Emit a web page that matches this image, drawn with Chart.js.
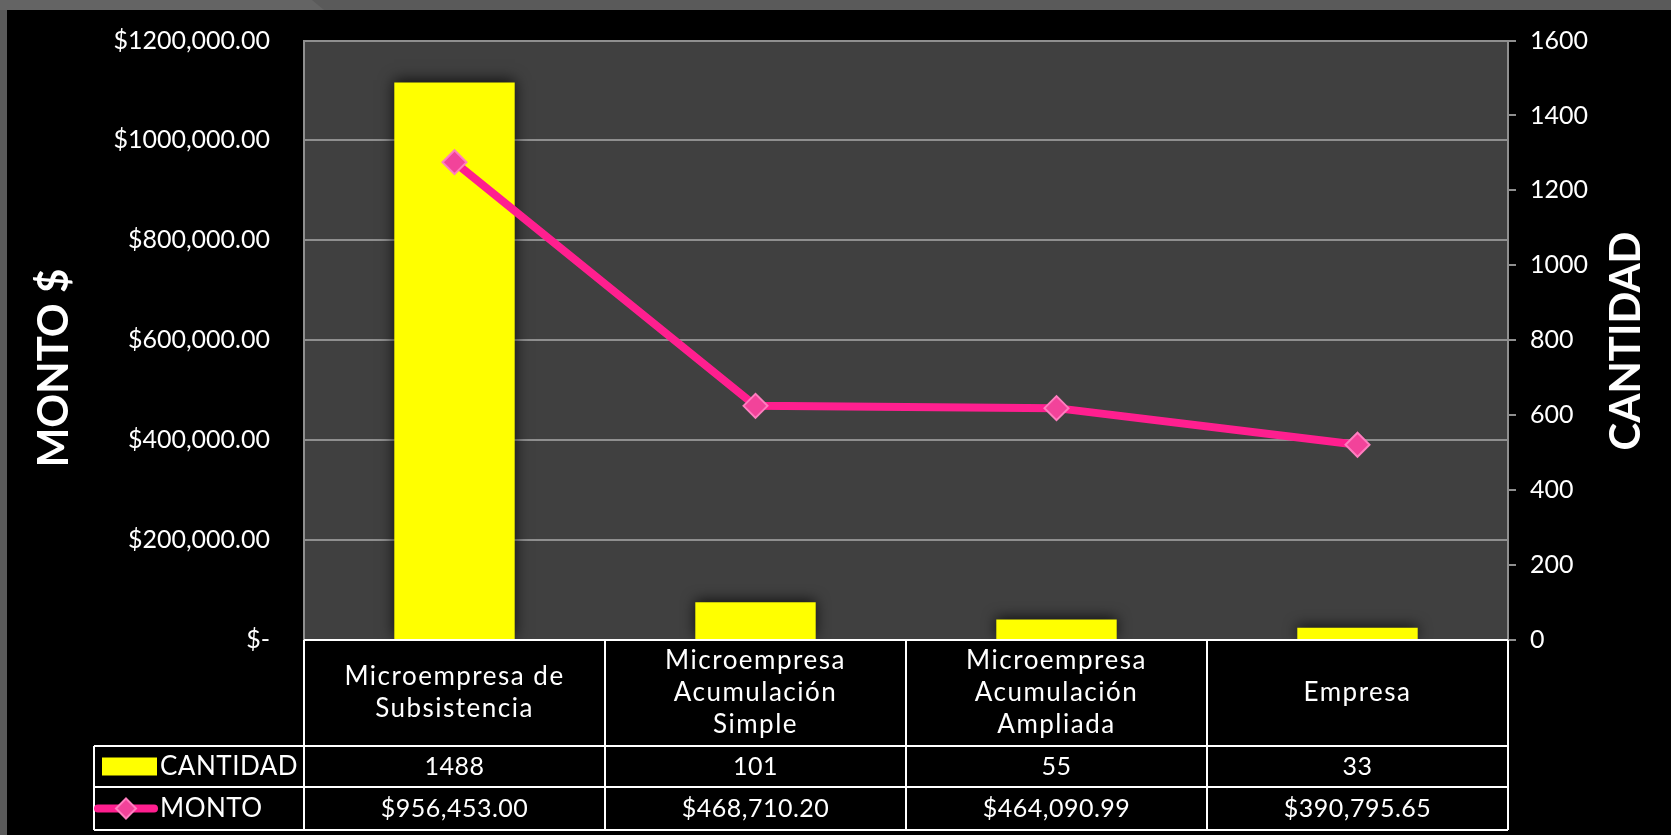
<!DOCTYPE html>
<html>
<head>
<meta charset="utf-8">
<script src="https://cdn.jsdelivr.net/npm/chart.js@4/dist/chart.umd.min.js"></script>
<style>
  html, body { margin: 0; padding: 0; background: #000; overflow: hidden; }
</style>
</head>
<body>
<canvas id="js-chart-montos" width="1671" height="835"></canvas>
<script>
// Chart data
const categories = [
  ['Microempresa de', 'Subsistencia'],
  ['Microempresa', 'Acumulación', 'Simple'],
  ['Microempresa', 'Acumulación', 'Ampliada'],
  ['Empresa']
];
const cantidad = [1488, 101, 55, 33];
const monto = [956453.00, 468710.20, 464090.99, 390795.65];
const montoTicks = ['$-', '$200,000.00', '$400,000.00', '$600,000.00', '$800,000.00', '$1000,000.00', '$1200,000.00'];
const cantidadTicks = ['0', '200', '400', '600', '800', '1000', '1200', '1400', '1600'];

const FONT = 'Lato, "Open Sans", sans-serif';
const PINK = '#ff1f8f';
const YELLOW = '#ffff00';

Chart.defaults.font.family = FONT;
Chart.defaults.font.size = 25;
Chart.defaults.color = '#ffffff';
Chart.defaults.plugins.legend.display = false;
Chart.defaults.plugins.tooltip.enabled = false;

function fmtMonto(v) {
  return '$' + v.toLocaleString('en-US', {minimumFractionDigits: 2, maximumFractionDigits: 2});
}

// Background, plot area, shadows, data table and axis titles
const decoPlugin = {
  id: 'deco',
  beforeDraw(chart) {
    const c = chart.ctx, a = chart.chartArea;
    c.save();
    c.fillStyle = '#5a5a5a';
    c.fillRect(0, 0, chart.width, chart.height);
    c.fillStyle = '#646464';
    c.beginPath();
    c.moveTo(0, 0); c.lineTo(312, 0); c.lineTo(324, 10); c.lineTo(0, 10);
    c.fill();
    c.fillStyle = '#000';
    c.fillRect(7, 10, chart.width - 7, chart.height - 10);
    c.fillStyle = '#404040';
    c.fillRect(a.left, a.top, a.right - a.left, a.bottom - a.top);
    c.restore();
  },
  beforeDatasetDraw(chart, args) {
    const c = chart.ctx;
    c.save();
    if (args.meta.type === 'bar') {
      c.shadowColor = 'rgba(0,0,0,0.75)';
      c.shadowBlur = 14;
      c.shadowOffsetY = -2;
    }
  },
  afterDatasetDraw(chart) {
    chart.ctx.restore();
  },
  afterDraw(chart) {
    const c = chart.ctx, a = chart.chartArea, xs = chart.scales.x;
    const n = categories.length;
    const colW = (a.right - a.left) / n;
    const legendLeft = 94;
    const hdrBottom = a.bottom + 106;
    const r1Bottom = hdrBottom + 41;
    const r2Bottom = r1Bottom + 43;
    const r1Mid = (hdrBottom + r1Bottom) / 2;
    const r2Mid = (r1Bottom + r2Bottom) / 2;

    c.save();
    c.strokeStyle = '#ffffff';
    c.lineWidth = 2;
    c.beginPath();
    c.moveTo(a.left, a.bottom); c.lineTo(a.right, a.bottom);
    [hdrBottom, r1Bottom, r2Bottom].forEach(y => { c.moveTo(legendLeft, y); c.lineTo(a.right, y); });
    for (let i = 0; i <= n; i++) {
      const x = a.left + i * colW;
      c.moveTo(x, a.bottom); c.lineTo(x, r2Bottom);
    }
    c.moveTo(legendLeft, hdrBottom); c.lineTo(legendLeft, r2Bottom);
    c.stroke();

    // table text
    c.fillStyle = '#ffffff';
    c.font = '26px ' + FONT;
    c.letterSpacing = '1.5px';
    c.textAlign = 'center';
    c.textBaseline = 'middle';
    const hdrMid = (a.bottom + hdrBottom) / 2;
    const lh = 32;
    categories.forEach((lines, i) => {
      const x = xs.getPixelForValue(i);
      const y0 = hdrMid - (lines.length - 1) * lh / 2;
      lines.forEach((t, j) => c.fillText(t, x, y0 + j * lh));
    });
    c.font = '25px ' + FONT;
    c.letterSpacing = '0.5px';
    categories.forEach((lines, i) => {
      const x = xs.getPixelForValue(i);
      c.fillText(String(cantidad[i]), x, r1Mid);
      c.fillText(fmtMonto(monto[i]), x, r2Mid);
    });

    // legend keys
    c.textAlign = 'left';
    c.font = '26px ' + FONT;
    c.letterSpacing = '0.5px';
    c.fillText('CANTIDAD', 160, r1Mid);
    c.fillText('MONTO', 160, r2Mid);
    c.letterSpacing = '0px';
    c.fillStyle = YELLOW;
    c.fillRect(102, r1Mid - 9, 55, 18);
    c.strokeStyle = PINK;
    c.lineWidth = 8;
    c.lineCap = 'round';
    c.beginPath(); c.moveTo(98, r2Mid); c.lineTo(154, r2Mid); c.stroke();
    c.fillStyle = '#f2439a';
    c.strokeStyle = '#ff7dbf';
    c.lineWidth = 2;
    c.beginPath();
    c.moveTo(126, r2Mid - 10); c.lineTo(136, r2Mid); c.lineTo(126, r2Mid + 10); c.lineTo(116, r2Mid);
    c.closePath(); c.fill(); c.stroke();

    // axis titles
    c.fillStyle = '#ffffff';
    c.font = 'bold 42px ' + FONT;
    c.textAlign = 'center';
    c.textBaseline = 'middle';
    c.save(); c.translate(54, 368); c.rotate(-Math.PI / 2); c.fillText('MONTO $', 0, 0); c.restore();
    c.save(); c.translate(1626, 341); c.rotate(-Math.PI / 2); c.fillText('CANTIDAD', 0, 0); c.restore();
    c.restore();
  }
};

const chartCon = document.getElementById('js-chart-montos');

new Chart(chartCon, {
  data: {
    labels: categories.map(l => l.join(' ')),
    datasets: [
      {
        type: 'line',
        label: 'MONTO',
        data: monto,
        yAxisID: 'y',
        borderColor: PINK,
        borderWidth: 8,
        tension: 0,
        pointStyle: 'rectRot',
        pointRadius: 12,
        pointBackgroundColor: '#f2439a',
        pointBorderColor: '#ff7dbf',
        pointBorderWidth: 2,
        order: 0
      },
      {
        type: 'bar',
        label: 'CANTIDAD',
        data: cantidad,
        yAxisID: 'y1',
        backgroundColor: YELLOW,
        barPercentage: 0.8,
        categoryPercentage: 0.5,
        order: 1
      }
    ]
  },
  options: {
    responsive: false,
    animation: false,
    devicePixelRatio: 1,
    layout: { padding: { top: 40.5, bottom: 195, left: 0, right: 0 } },
    scales: {
      x: { display: false },
      y: {
        position: 'left',
        min: 0,
        max: 1200000,
        afterFit(scale) { scale.width = 304; },
        ticks: {
          stepSize: 200000,
          padding: 0,
          callback: (v, i) => montoTicks[i]
        },
        grid: { color: '#8f8f8f', lineWidth: 2, drawTicks: true, tickLength: 34, tickColor: 'rgba(0,0,0,0)' },
        border: { color: '#8f8f8f', width: 2 }
      },
      y1: {
        position: 'right',
        min: 0,
        max: 1600,
        afterFit(scale) { scale.width = 163; },
        ticks: {
          stepSize: 200,
          padding: 14,
          callback: (v, i) => cantidadTicks[i]
        },
        grid: { drawOnChartArea: false, color: '#8f8f8f', lineWidth: 2, tickLength: 8 },
        border: { color: '#8f8f8f', width: 2 }
      }
    }
  },
  plugins: [decoPlugin]
});
</script>
</body>
</html>
